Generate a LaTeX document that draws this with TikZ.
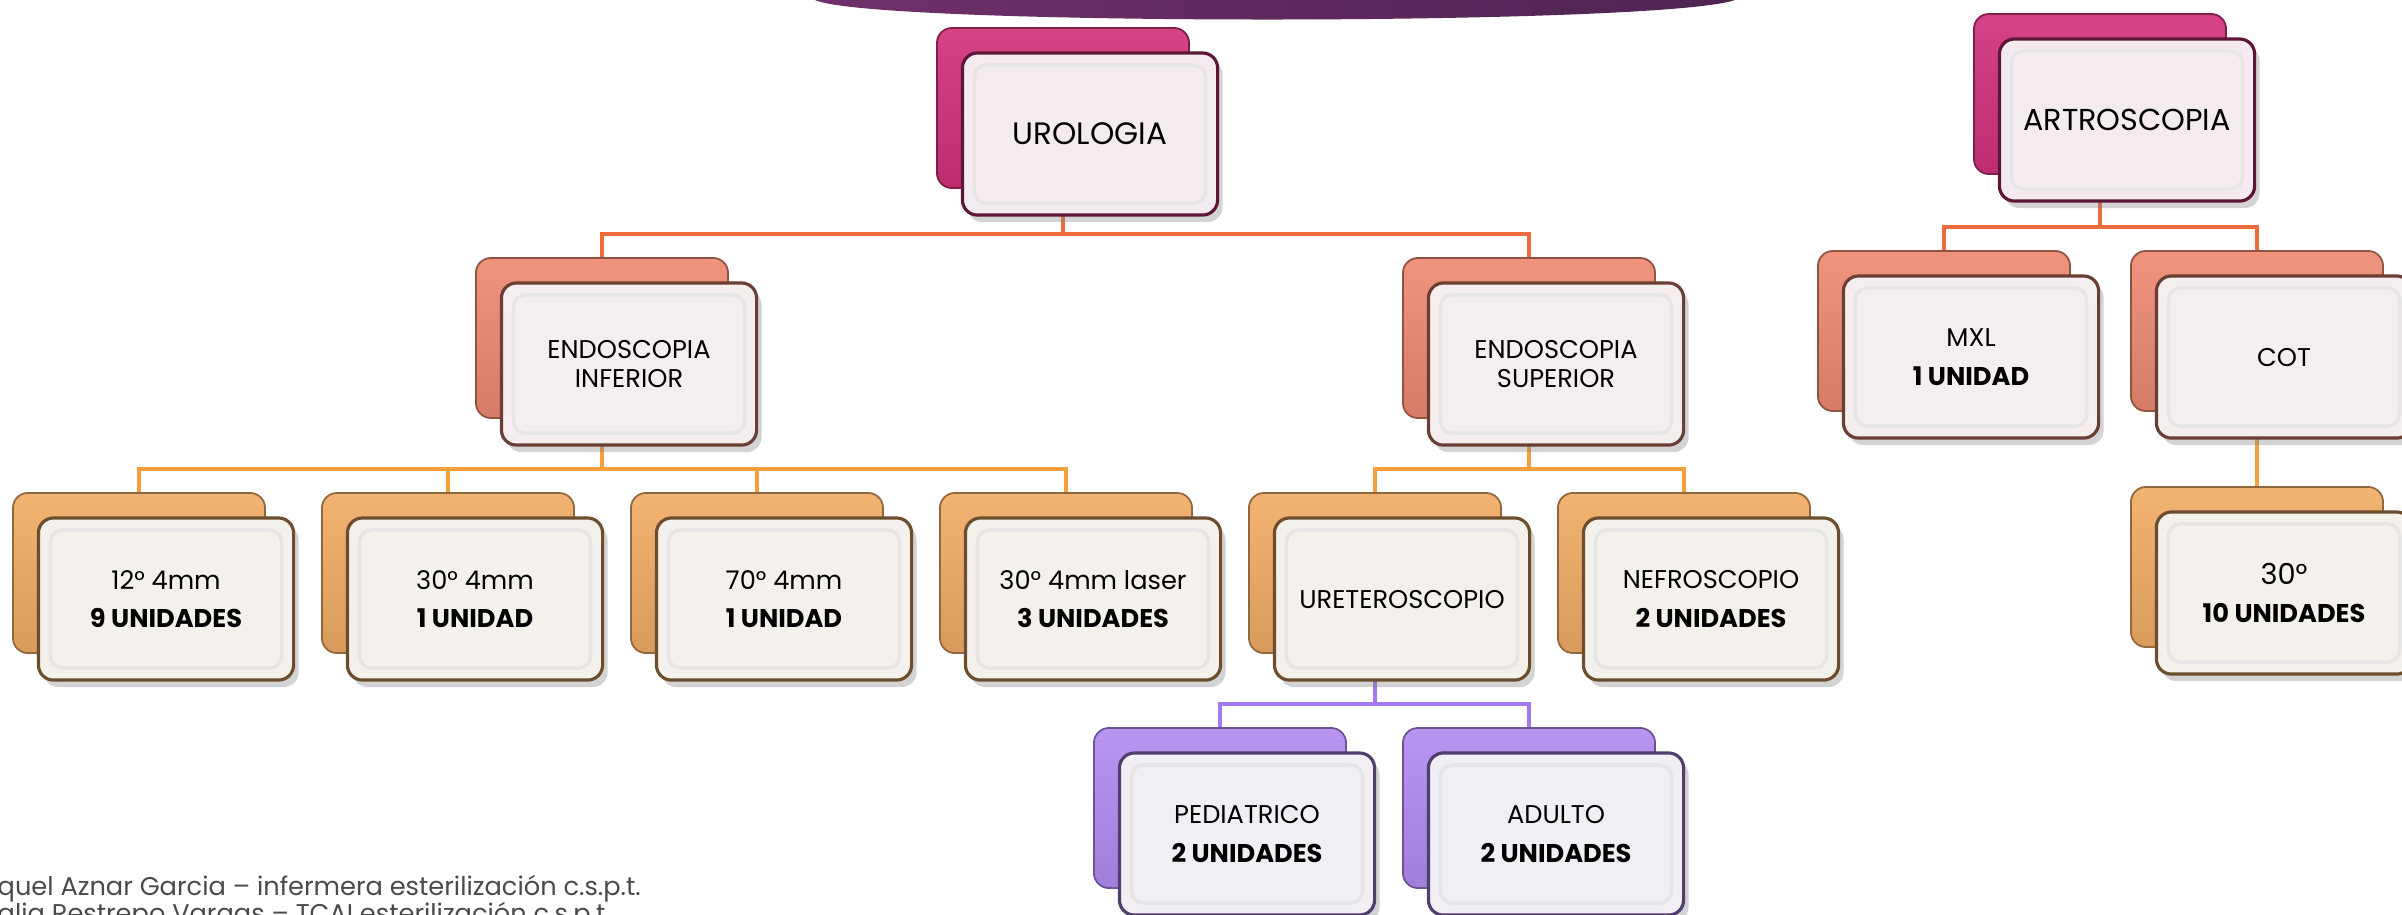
\documentclass[tikz,border=0pt]{standalone}
\usepackage{fontspec}
\setmainfont{Poppins}
\usepackage{tikz}
\usetikzlibrary{positioning, shadows, backgrounds}
\usepackage{xcolor}
\definecolor{rose}{HTML}{D2327C}
\definecolor{saumon}{HTML}{EE8A72}
\definecolor{abricot}{HTML}{F1AC66}
\definecolor{lavande}{HTML}{B28CF2}
\definecolor{lienrouge}{HTML}{EF6A3C}
\definecolor{lienorange}{HTML}{F5A03C}
\definecolor{lienviolet}{HTML}{A478F0}
\definecolor{bandeaug}{HTML}{70306A}
\definecolor{bandeaud}{HTML}{4E2452}
\definecolor{gris}{HTML}{4A4A4A}
\tikzset{
    fond/.style={rectangle, rounded corners=1.5mm, minimum width=2.52cm, minimum height=1.60cm, draw=#1!60!black, top color=#1!92!white, bottom color=#1!90!black, line width=0.5pt},
    carte/.style={rectangle, rounded corners=1.5mm, minimum width=2.55cm, minimum height=1.62cm, draw=#1!45!black, line width=0.9pt, fill=#1!5!white!96!black, align=center, font=\fontsize{7.3}{11}\selectfont, drop shadow={shadow xshift=0.5mm, shadow yshift=-0.7mm, opacity=0.35},
        path picture={\draw[black!10, line width=1pt, rounded corners=1.2mm] ([xshift=1.2mm, yshift=-1.2mm]path picture bounding box.north west) rectangle ([xshift=-1.2mm, yshift=1.2mm]path picture bounding box.south east);}},
    lien/.style={line width=1.1pt, draw=#1},
    pied/.style={font=\fontsize{7.3}{8}\selectfont, text=gris, inner sep=0pt},
}
\begin{document}
\begin{tikzpicture}[x=0.01cm, y=-0.01cm]
\useasboundingbox (0,0) rectangle (2402,914);
\clip (0,0) rectangle (2402,914);
% bandeau du haut
\shade[left color=bandeaug, right color=bandeaud] (815,0) .. controls (870,26) and (1660,26) .. (1735,0) -- cycle;
% cartes : fond colore + carte claire
\foreach \nom/\x/\y/\teinte/\texte in {
    uro/1063/108/rose/{\fontsize{8.8}{10}\selectfont UROLOGIA},
    artro/2100/94/rose/{\fontsize{8.6}{10}\selectfont ARTROSCOPIA},
    einf/602/338/saumon/{ENDOSCOPIA\\[-2.8pt]INFERIOR},
    esup/1529/338/saumon/{ENDOSCOPIA\\[-2.8pt]SUPERIOR},
    mxl/1944/331/saumon/{MXL\\\textbf{1 UNIDAD}},
    cot/2257/331/saumon/{COT},
    u12/139/573/abricot/{12° 4mm\\\textbf{9 UNIDADES}},
    u30/448/573/abricot/{30° 4mm\\\textbf{1 UNIDAD}},
    u70/757/573/abricot/{70° 4mm\\\textbf{1 UNIDAD}},
    laser/1066/573/abricot/{30° 4mm laser\\\textbf{3 UNIDADES}},
    uret/1375/573/abricot/{URETEROSCOPIO},
    nefro/1684/573/abricot/{NEFROSCOPIO\\\textbf{2 UNIDADES}},
    t30/2257/567/abricot/{\fontsize{8.2}{12}\selectfont 30°\\\textbf{10 UNIDADES}},
    ped/1220/808/lavande/{PEDIATRICO\\\textbf{2 UNIDADES}},
    adulto/1529/808/lavande/{ADULTO\\\textbf{2 UNIDADES}}}
{
    \node[fond=\teinte] (\nom-fond) at (\x,\y) {};
    \node[carte=\teinte] (\nom) at ([xshift=2.7mm, yshift=-2.6mm]\nom-fond.center) {\texte};
}
% liens
\begin{scope}[on background layer]
\foreach \parent/\enfant/\teinte in {uro/einf/lienrouge, uro/esup/lienrouge,
    einf/u12/lienorange, einf/u30/lienorange, einf/u70/lienorange, einf/laser/lienorange,
    esup/uret/lienorange, esup/nefro/lienorange, uret/ped/lienviolet, uret/adulto/lienviolet,
    artro/mxl/lienrouge, artro/cot/lienrouge, cot/t30/lienorange}
    \draw[lien=\teinte] (\parent-fond.south) |- ([yshift=2.3mm]\enfant-fond.north) -- (\enfant-fond.north);
\end{scope}
% auteurs
\node[pied, anchor=base west] (auteur1) at (-3,895) {quel Aznar Garcia – infermera esterilización c.s.p.t.};
\node[pied, anchor=base west] (auteur2) at (-3,922) {alia Restrepo Vargas – TCAI esterilización c.s.p.t.};
\end{tikzpicture}
\end{document}
